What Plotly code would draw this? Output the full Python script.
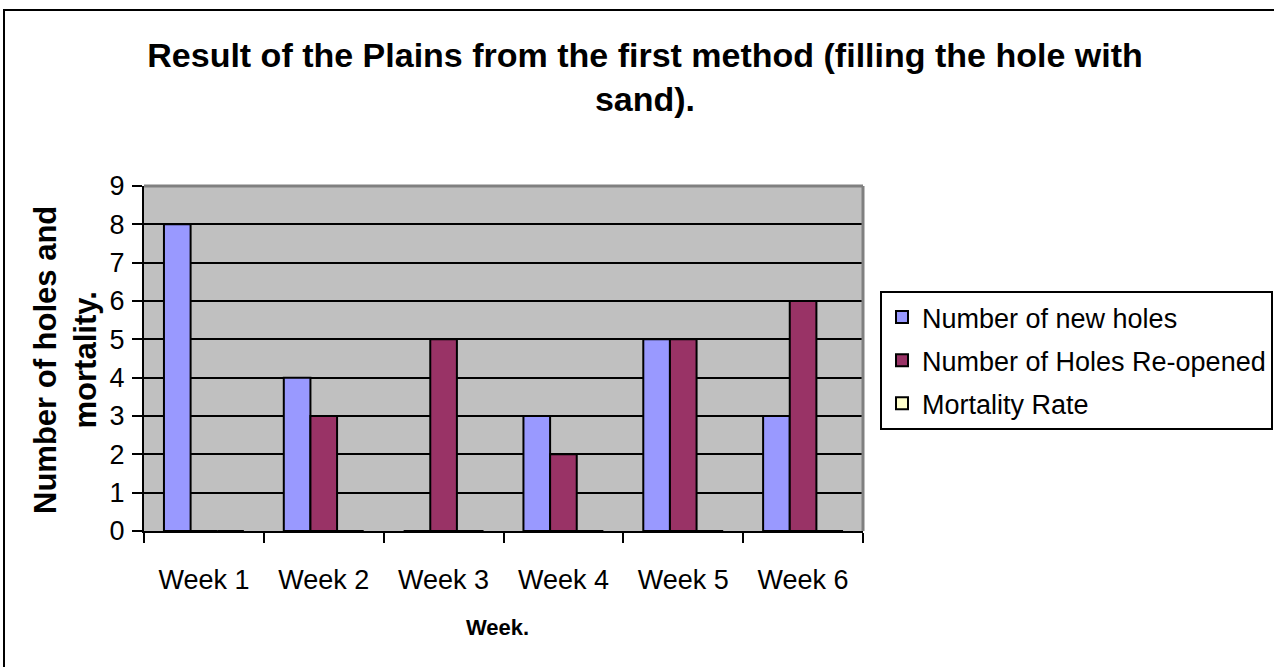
import plotly.graph_objects as go

categories = ["Week 1", "Week 2", "Week 3", "Week 4", "Week 5", "Week 6"]
new_holes = [8, 4, 0, 3, 5, 3]
reopened = [0, 3, 5, 2, 5, 6]
mortality = [0, 0, 0, 0, 0, 0]
series_names = ["Number of new holes", "Number of Holes Re-opened", "Mortality Rate"]
series_colors = ["#9999FF", "#993366", "#FFFFCC"]
y_ticks = list(range(0, 10))

W, H = 1274, 667
FONT = "Liberation Sans, Arial, sans-serif"

fig = go.Figure()
for i, (name, vals, col) in enumerate(zip(series_names, [new_holes, reopened, mortality], series_colors)):
    fig.add_trace(go.Bar(
        x=categories, y=vals, name=name, legendgroup=f"g{i}",
        marker=dict(color=col, line=dict(color="black", width=2)),
    ))

px = lambda v: v / W
py = lambda v: (H - v) / H

fig.update_layout(
    width=W, height=H,
    margin=dict(l=0, r=0, t=0, b=0),
    paper_bgcolor="white",
    plot_bgcolor="#C0C0C0",
    barmode="group", bargap=0.333, bargroupgap=0,
    font=dict(family=FONT, color="black", size=27),
    title=dict(
        text="<b>Result of the Plains from the first method (filling the hole with<br>sand).</b>",
        x=px(645), xanchor="center", y=py(67), yanchor="middle",
        font=dict(size=34, family=FONT, color="black"),
    ),
    xaxis=dict(
        domain=[px(144), px(863)], automargin=False,
        showline=True, linecolor="black", linewidth=2,
        ticks="outside", ticklen=10, tickwidth=2, tickcolor="black",
        tickson="boundaries", showgrid=False,
        tickfont=dict(size=27, family=FONT), ticklabelstandoff=24,
    ),
    yaxis=dict(
        domain=[py(531), py(186)], automargin=False,
        range=[0, 9], tickvals=y_ticks,
        showline=True, linecolor="black", linewidth=2,
        ticks="outside", ticklen=10, tickwidth=2, tickcolor="black",
        showgrid=True, gridcolor="black", gridwidth=2, zeroline=False,
        tickfont=dict(size=27, family=FONT), ticklabelstandoff=2,
    ),
    legend=dict(
        x=px(880), xanchor="left", y=py(291), yanchor="top",
        bordercolor="black", borderwidth=2, bgcolor="white",
        font=dict(size=27, family=FONT), tracegroupgap=5,
        traceorder="grouped",
    ),
    showlegend=True,
)

# plot-area border (grey top and right edges)
fig.add_shape(type="line", xref="paper", yref="paper", x0=px(144), x1=px(863), y0=py(186), y1=py(186),
              line=dict(color="#808080", width=3), layer="above")
fig.add_shape(type="line", xref="paper", yref="paper", x0=px(863), x1=px(863), y0=py(186), y1=py(531),
              line=dict(color="#808080", width=3), layer="above")
# outer chart border
fig.add_shape(type="rect", xref="paper", yref="paper", x0=px(4), x1=px(1290), y0=py(690), y1=py(10),
              line=dict(color="black", width=2), layer="above")

fig.add_annotation(
    text="<b>Number of holes and<br>mortality.</b>", textangle=-90,
    xref="paper", yref="paper", x=px(65), y=py(360), xanchor="center", yanchor="middle",
    showarrow=False, font=dict(size=31, family=FONT),
)
fig.add_annotation(
    text="<b>Week.</b>", xref="paper", yref="paper", x=px(497), y=py(627),
    xanchor="center", yanchor="middle", showarrow=False, font=dict(size=22, family=FONT),
)

fig.write_html("out.html", config={"displayModeBar": False},
               post_script="document.body.style.margin='0px';")
